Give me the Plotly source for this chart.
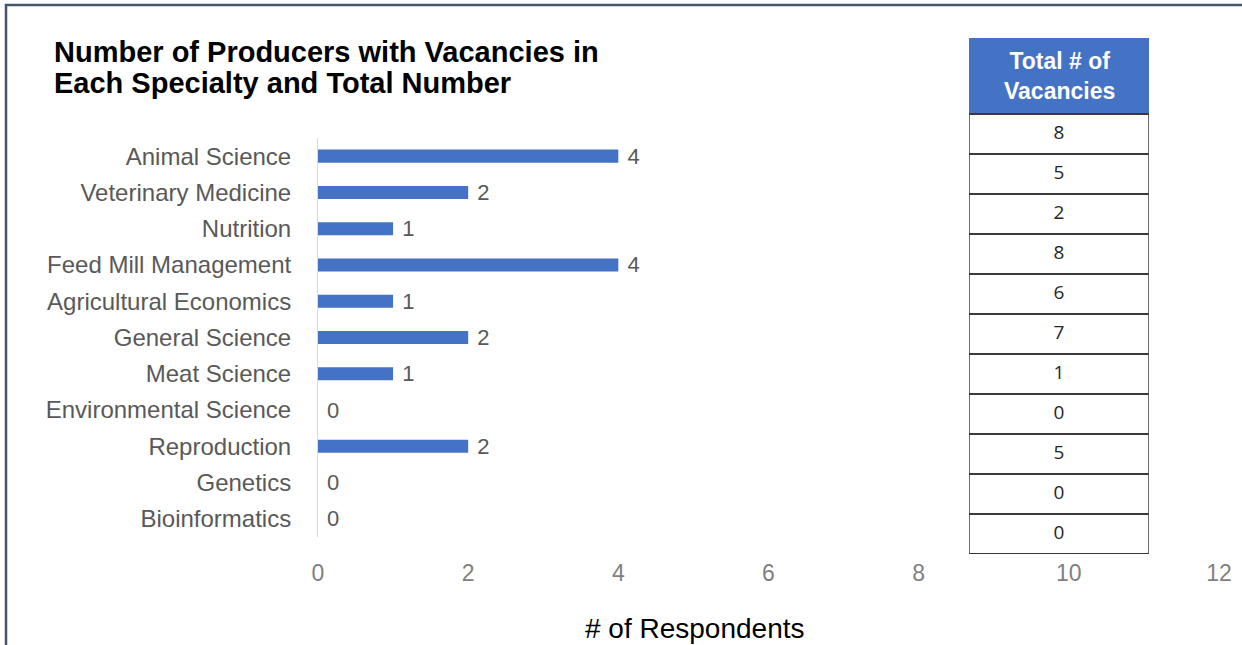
import plotly.graph_objects as go

# Specialties (top to bottom) and number of producers with a vacancy in each
specialties = [
    "Animal Science", "Veterinary Medicine", "Nutrition", "Feed Mill Management",
    "Agricultural Economics", "General Science", "Meat Science",
    "Environmental Science", "Reproduction", "Genetics", "Bioinformatics",
]
producers = [4, 2, 1, 4, 1, 2, 1, 0, 2, 0, 0]
total_vacancies = [8, 5, 2, 8, 6, 7, 1, 0, 5, 0, 0]
x_ticks = [0, 2, 4, 6, 8, 10, 12]
table_header = "<b>Total # of<br>Vacancies</b>"

W, H = 1242, 645
BLUE = "#4472C4"
GREY = "#595959"
SANS = "Liberation Sans, Arial, sans-serif"
ROW_LINE = dict(color="#3A3A3A", width=2)
SIDE_LINE = dict(color="#6E6E6E", width=2)

fig = go.Figure()

fig.add_trace(go.Bar(
    y=specialties,
    x=producers,
    orientation="h",
    marker=dict(color=BLUE, line=dict(width=0)),
    width=0.36,
    text=["\u00a0" + str(v) for v in producers],
    textposition="outside",
    constraintext="none",
    cliponaxis=False,
    textfont=dict(family=SANS, size=22, color=GREY),
    showlegend=False,
    hoverinfo="skip",
))

# Side table: one row per specialty on its own axes (row i centred at y=i),
# with the header block sitting above row 0.
rows = list(range(len(total_vacancies)))
header_rows = 1.9  # header height expressed in body-row units
top_edge = -0.5 - header_rows
bottom_edge = len(rows) - 0.5

fig.add_trace(go.Scatter(
    x=[0.5] * len(rows),
    y=rows,
    text=[str(v) for v in total_vacancies],
    mode="text",
    textposition="middle center",
    textfont=dict(family="Open Sans, Noto Sans, sans-serif", size=19, color="#262626"),
    xaxis="x2", yaxis="y2",
    showlegend=False,
    hoverinfo="skip",
    cliponaxis=False,
))

shapes = [
    # outer frame of the whole graphic
    dict(type="rect", xref="paper", yref="paper",
         x0=6 / W, x1=1.02, y0=-0.02, y1=1 - 5 / H,
         line=dict(color="#44546A", width=2.5), fillcolor="rgba(0,0,0,0)",
         layer="above"),
    # table header block
    dict(type="rect", xref="x2", yref="y2", x0=0, x1=1, y0=top_edge, y1=-0.5,
         fillcolor=BLUE, line=dict(width=0), layer="below"),
    # table body sides
    dict(type="line", xref="x2", yref="y2", x0=0, x1=0, y0=-0.5, y1=bottom_edge,
         line=SIDE_LINE, layer="above"),
    dict(type="line", xref="x2", yref="y2", x0=1, x1=1, y0=-0.5, y1=bottom_edge,
         line=SIDE_LINE, layer="above"),
]
# row borders, from the header's lower edge down to the table bottom
for r in [-1] + rows:
    shapes.append(dict(type="line", xref="x2", yref="y2", x0=0, x1=1,
                       y0=r + 0.5, y1=r + 0.5, line=ROW_LINE, layer="above"))

fig.update_layout(
    width=W, height=H,
    autosize=False,
    margin=dict(l=0, r=0, t=0, b=0, pad=0),
    paper_bgcolor="white",
    plot_bgcolor="rgba(0,0,0,0)",
    bargap=0.64,
    xaxis=dict(
        domain=[318 / W, 1219 / W],
        range=[0, 12],
        tickvals=x_ticks,
        ticktext=[str(t) for t in x_ticks],
        showgrid=False,
        zeroline=False,
        showline=False,
        ticks="",
        ticklabelstandoff=20,
        tickfont=dict(family=SANS, size=23, color="#7F7F7F"),
        automargin=False,
        fixedrange=True,
    ),
    yaxis=dict(
        domain=[1 - 537 / H, 1 - 138 / H],
        autorange="reversed",
        categoryorder="array",
        categoryarray=specialties,
        showgrid=False,
        zeroline=False,
        showline=True,
        linecolor="#D9D9D9",
        linewidth=1,
        ticks="",
        ticklabelstandoff=21,
        tickfont=dict(family=SANS, size=24, color=GREY),
        automargin=False,
        fixedrange=True,
    ),
    xaxis2=dict(
        domain=[969 / W, 1149 / W],
        range=[0, 1],
        anchor="y2",
        visible=False,
        fixedrange=True,
    ),
    yaxis2=dict(
        domain=[1 - 554 / H, 1 - 38 / H],
        range=[bottom_edge, top_edge],
        anchor="x2",
        visible=False,
        fixedrange=True,
    ),
    annotations=[
        dict(
            text="<b>Number of Producers with Vacancies in</b>",
            xref="paper", yref="paper",
            x=52 / W, y=1 - 52 / H,
            xanchor="left", yanchor="middle",
            showarrow=False,
            font=dict(family=SANS, size=29, color="black"),
        ),
        dict(
            text="<b>Each Specialty and Total Number</b>",
            xref="paper", yref="paper",
            x=52 / W, y=1 - 83 / H,
            xanchor="left", yanchor="middle",
            showarrow=False,
            font=dict(family=SANS, size=29, color="black"),
        ),
        dict(
            text="# of Respondents",
            xref="paper", yref="paper",
            x=695 / W, y=1 - 628 / H,
            xanchor="center", yanchor="middle",
            showarrow=False,
            font=dict(family=SANS, size=28, color="black"),
        ),
        dict(
            text=table_header,
            xref="x2", yref="y2",
            x=0.5, y=(top_edge - 0.5) / 2,
            xanchor="center", yanchor="middle",
            showarrow=False,
            font=dict(family=SANS, size=23, color="white"),
        ),
    ],
    shapes=shapes,
)

fig.write_html("out.html")
